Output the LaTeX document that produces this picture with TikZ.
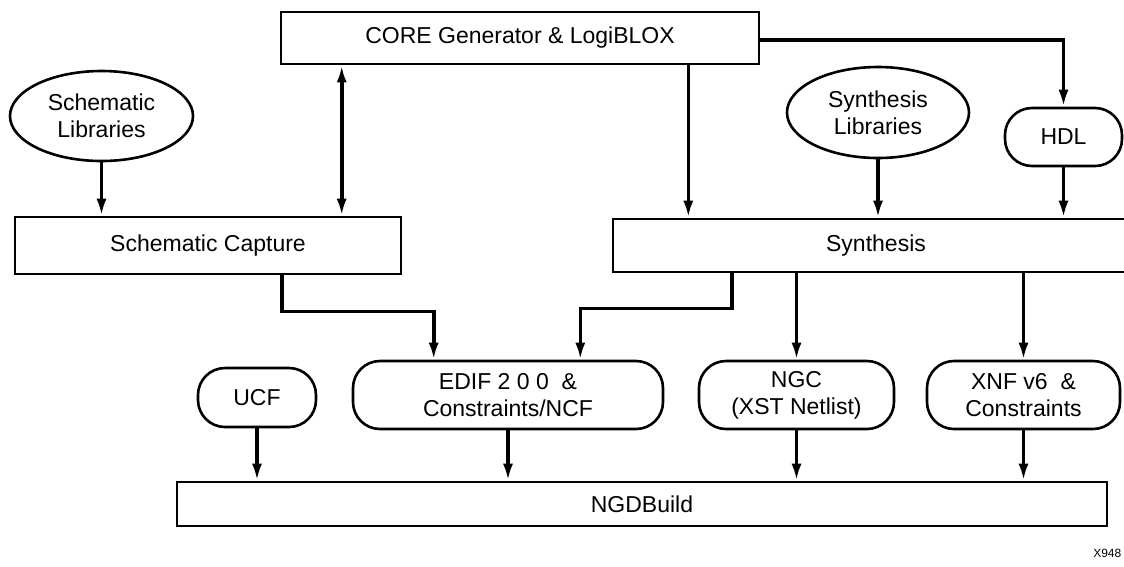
\documentclass[tikz,border=0pt]{standalone}
\usepackage{fontspec}
\setmainfont{Liberation Sans}
\usetikzlibrary{arrows.meta,shapes.geometric}
\begin{document}
\begin{tikzpicture}[x=1pt,y=-1pt,
        every node/.style={font=\fontsize{23}{27}\selectfont, align=center, inner sep=0pt, line width=2.6pt},
        box/.style={draw, rectangle},
        ellbox/.style={draw, ellipse},
        pill/.style={draw, rectangle, rounded corners=27pt},
        arr/.style={line width=3.6pt, -{Latex[length=17pt,width=10pt]}},
        arrboth/.style={line width=3.6pt, {Latex[length=17pt,width=10pt]}-{Latex[length=17pt,width=10pt]}}]
    \useasboundingbox (0,0) rectangle (1124,566);
    \clip (0,0) rectangle (1124,566);
    % top row
    \node[box, minimum width=478pt, minimum height=52pt] (core) at (520,38) {CORE Generator \& LogiBLOX};
    \node[ellbox, minimum width=183pt, minimum height=90pt] (schlib) at (101.5,116) {Schematic\\Libraries};
    \node[ellbox, minimum width=182pt, minimum height=91pt] (synlib) at (878,112.5) {Synthesis\\Libraries};
    \node[pill, minimum width=117pt, minimum height=58pt] (hdl) at (1063.5,137) {HDL};
    % capture and synthesis
    \node[box, minimum width=386pt, minimum height=57pt] (capture) at (208,245.5) {Schematic Capture};
    \node[box, minimum width=526pt, minimum height=53pt] (synth) at (876,245.5) {Synthesis};
    % netlists
    \node[pill, minimum width=118pt, minimum height=59pt] (ucf) at (257,397.5) {UCF};
    \node[pill, minimum width=310pt, minimum height=68pt] (edif) at (508,395) {EDIF 2 0 0 \ \&\\Constraints/NCF};
    \node[pill, minimum width=195pt, minimum height=68pt] (ngc) at (796.5,395) {NGC\\(XST Netlist)};
    \node[pill, minimum width=193pt, minimum height=68pt] (xnf) at (1023.5,395) {XNF v6 \ \&\\Constraints};
    \node[box, minimum width=930pt, minimum height=44pt] (ngd) at (642,504) {NGDBuild};
    \node[font=\fontsize{12}{14}\selectfont, anchor=west] (fig) at (1092,553) {X948};
    % connectors
    \coordinate (c1) at ([xshift=62pt]core.south west);
    \coordinate (c2) at ([xshift=-72pt]core.south east);
    \coordinate (c3) at ([xshift=268pt]capture.south west);
    \coordinate (c4) at ([xshift=120pt]synth.south west);
    \draw[arr] (schlib.south) -- (schlib.south |- capture.north);
    \draw[arrboth] (c1) -- (c1 |- capture.north);
    \draw[arr] (c2) -- (c2 |- synth.north);
    \draw[arr] ([yshift=-2pt]core.east) -| (hdl.north);
    \draw[arr] (synlib.south) -- (synlib.south |- synth.north);
    \draw[arr] (hdl.south) -- (hdl.south |- synth.north);
    \draw[arr] (c3) -- ++(0,36) -| ([xshift=82pt]edif.north west);
    \draw[arr] (c4) -- ++(0,35) -| ([xshift=-84pt]edif.north east);
    \draw[arr] (synth.south -| ngc.north) -- (ngc.north);
    \draw[arr] (synth.south -| xnf.north) -- (xnf.north);
    \foreach \n in {ucf,edif,ngc,xnf}
        \draw[arr] (\n.south) -- (\n.south |- ngd.north);
\end{tikzpicture}
\end{document}
